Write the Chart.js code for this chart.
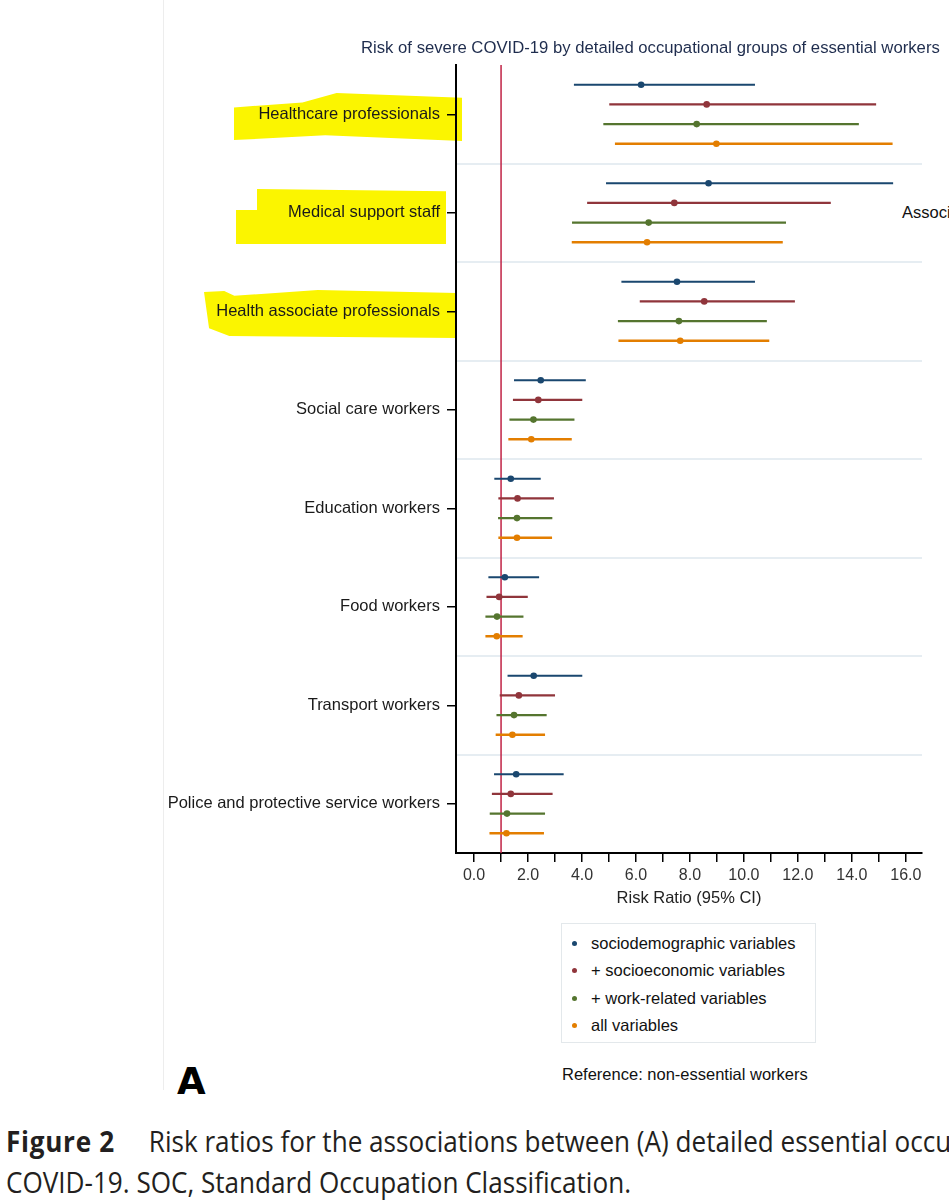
<!DOCTYPE html>
<html>
<head>
<meta charset="utf-8">
<script src="https://cdn.jsdelivr.net/npm/chart.js@4.4.0/dist/chart.umd.min.js"></script>
<style>
    body {
        margin: 0;
        width: 949px;
        height: 1200px;
        overflow: hidden;
        background: #fff;
        position: relative;
        font-family: "Liberation Sans", Arial, sans-serif;
    }
    .painel { position: absolute; left: 163px; top: 0; width: 1px; height: 1090px; background: #ededed; }
    .marca { position: absolute; background: #fbf500; z-index: 0; }
    #caixa_grafico { position: absolute; left: 0; top: 0; width: 949px; height: 913px; z-index: 1; }
    .titulo { position: absolute; left: 361px; top: 38px; font-size: 16.7px; color: #1f2d4e; white-space: nowrap; z-index: 2; }
    .assoc { position: absolute; left: 902px; top: 203px; font-size: 16.5px; color: #111; white-space: nowrap; }
    .legenda { position: absolute; left: 561px; top: 923px; width: 255px; height: 120px; border: 1px solid #e3e8eb; padding-top: 6px; box-sizing: border-box; }
    .legenda div { height: 27.3px; line-height: 27.3px; font-size: 16.5px; color: #111; position: relative; padding-left: 29px; white-space: nowrap; }
    .legenda span { position: absolute; left: 10px; top: 11px; width: 5px; height: 5px; border-radius: 50%; }
    .referencia { position: absolute; left: 562px; top: 1065px; font-size: 16.5px; color: #111; white-space: nowrap; }
    .letra { position: absolute; left: 177px; top: 1060px; font-size: 37px; font-weight: bold; color: #000; font-family: "DejaVu Sans", sans-serif; }
    .legenda_fig { position: absolute; left: 6px; font-family: "Open Sans", sans-serif; font-size: 29px; color: #231f20; white-space: nowrap; transform: scaleX(0.9); transform-origin: left top; }
</style>
</head>
<body>
<div class="painel"></div>

<!-- marcações amarelas atrás dos rótulos -->
<div class="marca" style="left:234px; top:93px; width:228px; height:48px; clip-path: polygon(0 30%, 30% 20%, 45% 0, 100% 10%, 100% 100%, 40% 88%, 0 98%);"></div>
<div class="marca" style="left:236px; top:189px; width:210px; height:55px; clip-path: polygon(0 38%, 10% 38%, 10% 0, 100% 4%, 100% 100%, 0 100%);"></div>
<div class="marca" style="left:204px; top:289px; width:253px; height:49px; clip-path: polygon(0 6%, 8% 4%, 12% 14%, 45% 2%, 100% 8%, 100% 100%, 10% 96%, 2% 80%);"></div>

<div class="titulo">Risk of severe COVID-19 by detailed occupational groups of essential workers</div>
<div class="assoc">Association</div>

<div id="caixa_grafico"><canvas id="forest_ocupacoes"></canvas></div>

<div class="legenda" id="legenda"></div>
<div class="referencia">Reference: non-essential workers</div>
<div class="letra">A</div>
<div class="legenda_fig" style="top:1121px;"><b style="letter-spacing:0.8px">Figure 2</b>&nbsp;&nbsp;&nbsp;&nbsp;&nbsp;Risk ratios for the associations between (A) detailed essential occupational groups and (B)</div>
<div class="legenda_fig" style="top:1162px;">COVID-19. SOC, Standard Occupation Classification.</div>

<script>
/*Gráfico de intervalos (forest plot) das razões de risco por grupo ocupacional*/

const grupos = [
    'Healthcare professionals',
    'Medical support staff',
    'Health associate professionals',
    'Social care workers',
    'Education workers',
    'Food workers',
    'Transport workers',
    'Police and protective service workers',
];

const series = [
    'sociodemographic variables',
    '+ socioeconomic variables',
    '+ work-related variables',
    'all variables',
];

// estimativa pontual, limite inferior e superior (IC 95%)
const rr_sociodemo = [6.19, 8.69, 7.52, 2.47, 1.36, 1.14, 2.21, 1.56];
const inf_sociodemo = [3.70, 4.89, 5.46, 1.48, 0.75, 0.53, 1.24, 0.74];
const sup_sociodemo = [10.41, 15.53, 10.41, 4.14, 2.47, 2.41, 4.01, 3.32];

const rr_socioecon = [8.62, 7.42, 8.53, 2.38, 1.61, 0.93, 1.66, 1.36];
const inf_socioecon = [5.01, 4.19, 6.14, 1.44, 0.90, 0.46, 0.95, 0.66];
const sup_socioecon = [14.90, 13.22, 11.89, 4.01, 2.96, 1.99, 3.00, 2.91];

const rr_trabalho = [8.25, 6.47, 7.59, 2.20, 1.59, 0.85, 1.48, 1.22];
const inf_trabalho = [4.79, 3.63, 5.33, 1.31, 0.89, 0.42, 0.83, 0.58];
const sup_trabalho = [14.26, 11.56, 10.85, 3.72, 2.90, 1.83, 2.69, 2.63];

const rr_todas = [8.98, 6.41, 7.64, 2.12, 1.59, 0.84, 1.42, 1.20];
const inf_todas = [5.22, 3.62, 5.35, 1.27, 0.90, 0.42, 0.80, 0.57];
const sup_todas = [15.51, 11.44, 10.94, 3.62, 2.89, 1.80, 2.63, 2.59];

const valor_referencia = 1.0;
const ticks_x = [0, 1, 2, 3, 4, 5, 6, 7, 8, 9, 10, 11, 12, 13, 14, 15, 16];

const cores = ['#1a476f', '#90353b', '#55752f', '#e37e00'];
const fonte = '"Liberation Sans", Arial, sans-serif';

const estimativas = [rr_sociodemo, rr_socioecon, rr_trabalho, rr_todas];
const limites_inf = [inf_sociodemo, inf_socioecon, inf_trabalho, inf_todas];
const limites_sup = [sup_sociodemo, sup_socioecon, sup_trabalho, sup_todas];

// cada grupo ocupa 5 posições: 4 linhas + 1 espaço
function posicao(g, s) { return 5 * g + s; }

const datasets = [];
series.forEach((nome, s) => {
    const intervalo = [];
    grupos.forEach((_, g) => {
        intervalo.push({x: limites_inf[s][g], y: posicao(g, s)});
        intervalo.push({x: limites_sup[s][g], y: posicao(g, s)});
        intervalo.push({x: null, y: posicao(g, s)});
    });
    datasets.push({
        type: 'line',
        label: nome + ' (IC)',
        data: intervalo,
        yAxisID: 'y',
        borderColor: cores[s],
        borderWidth: s === 3 ? 2.4 : 2.1,
        pointRadius: 0,
        spanGaps: false,
        order: 2,
    });
    datasets.push({
        type: 'scatter',
        label: nome,
        data: grupos.map((_, g) => ({x: estimativas[s][g], y: posicao(g, s)})),
        yAxisID: 'y',
        backgroundColor: cores[s],
        borderWidth: 0,
        pointRadius: 3.3,
        order: 1,
    });
});

datasets.push({
    type: 'line',
    label: 'referência',
    data: [{x: valor_referencia, y: -1}, {x: valor_referencia, y: 39}],
    yAxisID: 'y',
    borderColor: '#c02346',
    borderWidth: 1.5,
    pointRadius: 0,
    order: 3,
});

const config_forest = {
    type: 'scatter',
    data: {datasets: datasets},
    options: {
        responsive: true,
        maintainAspectRatio: false,
        animation: false,
        layout: {padding: {left: 156, right: 27, top: 65, bottom: 0}},
        plugins: {legend: {display: false}, tooltip: {enabled: false}},
        scales: {
            x: {
                type: 'linear',
                min: -0.67,
                max: 16.6,
                afterBuildTicks: (escala) => { escala.ticks = ticks_x.map(v => ({value: v})); },
                afterFit: (escala) => { escala.height = 60; },
                ticks: {
                    autoSkip: false,
                    maxRotation: 0,
                    padding: 4,
                    color: '#333',
                    font: {family: fonte, size: 16},
                    callback: (v) => (v % 2 === 0 ? v.toFixed(1) : ''),
                },
                grid: {drawOnChartArea: false, drawTicks: true, tickLength: 9, color: '#000', lineWidth: 1.5},
                border: {display: true, color: '#000', width: 2},
                title: {display: true, text: 'Risk Ratio (95% CI)', color: '#222', font: {family: fonte, size: 16.5}, padding: {top: 0, bottom: 5}},
            },
            y: {
                type: 'linear',
                axis: 'y',
                position: 'left',
                min: -1,
                max: 39,
                reverse: true,
                afterBuildTicks: (escala) => { escala.ticks = grupos.map((_, g) => ({value: 5 * g + 1.5})); },
                afterFit: (escala) => { escala.width = 300; },
                ticks: {
                    autoSkip: false,
                    padding: 7,
                    color: '#1a1a1a',
                    font: {family: fonte, size: 16.5},
                    callback: (v, i) => grupos[i],
                },
                grid: {drawOnChartArea: false, drawTicks: true, tickLength: 9, color: '#000', lineWidth: 1.5},
                border: {display: true, color: '#000', width: 2},
            },
            separadores: {
                type: 'linear',
                axis: 'y',
                position: 'left',
                min: -1,
                max: 39,
                reverse: true,
                afterBuildTicks: (escala) => { escala.ticks = grupos.slice(1).map((_, g) => ({value: 5 * g + 4})); },
                afterFit: (escala) => { escala.width = 0; },
                ticks: {display: false},
                grid: {drawTicks: false, color: '#e6edf2', lineWidth: 2},
                border: {display: false},
            },
        },
    },
};

const grafico_forest = new Chart(
    document.getElementById('forest_ocupacoes'),
    config_forest
);

// legenda em caixa, como no original
const caixa_legenda = document.getElementById('legenda');
series.forEach((nome, s) => {
    const item = document.createElement('div');
    item.innerHTML = '<span style="background:' + cores[s] + '"></span>' + nome;
    caixa_legenda.appendChild(item);
});
</script>
</body>
</html>
